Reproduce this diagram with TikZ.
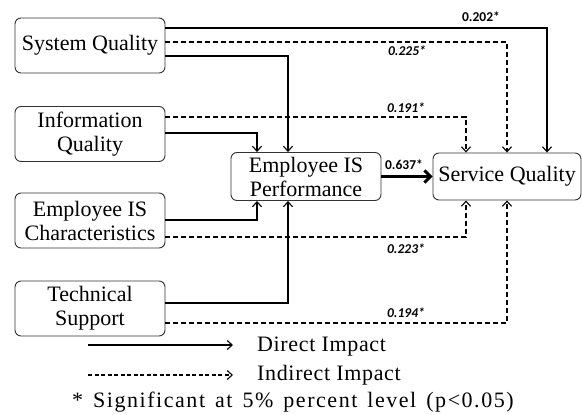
\documentclass[tikz,border=0pt]{standalone}
\usepackage{fontspec}
\setmainfont{Liberation Serif}
\newfontfamily\lblfont{Carlito}
\usetikzlibrary{arrows.meta}
\begin{document}
\begin{tikzpicture}[x=1pt,y=-1pt,
  box/.style={draw=black!80, line width=0.9pt, rounded corners=6pt, inner sep=0pt, align=center, font=\fontsize{22}{24}\selectfont},
  direct/.style={line width=1.1pt, -{Straight Barb[length=5pt,width=9pt,line width=1.1pt]}},
  indirect/.style={direct, dash pattern=on 5pt off 3pt},
  legdash/.style={direct, dash pattern=on 4pt off 2.5pt},
  mainarrow/.style={line width=3pt, -{Straight Barb[length=6pt,width=12pt]}},
  lab/.style={font=\lblfont\bfseries\fontsize{13.5}{13.5}\selectfont, inner sep=0pt},
  labi/.style={inner sep=0pt, font=\lblfont\bfseries\itshape\fontsize{13.5}{13.5}\selectfont},
  legtext/.style={font=\fontsize{22}{24}\selectfont\addfontfeature{LetterSpace=3}, anchor=base west, inner sep=0pt}
]
\useasboundingbox (0,0) rectangle (582,415);
% boxes
\node[box, minimum width=150pt, minimum height=55pt] (sys) at (90,45.5) {System Quality};
\node[box, minimum width=150pt, minimum height=55pt] (info) at (90,134) {Information\\Quality};
\node[box, minimum width=150pt, minimum height=55pt] (char) at (90,220.5) {Employee IS\\Characteristics};
\node[box, minimum width=150pt, minimum height=55pt] (tech) at (90,308.5) {Technical\\Support};
\node[box, minimum width=150pt, minimum height=48pt] (perf) at (306,176.5) {Employee IS\\Performance};
\node[box, minimum width=148pt, minimum height=47pt] (serv) at (507,176.5) {Service Quality};
% connectors
\draw[direct] ([yshift=17.5pt]sys.east) -| ([xshift=40pt]serv.north);
\draw[indirect] ([yshift=3.5pt]sys.east) -| (serv.north);
\draw[direct] ([yshift=-10.5pt]sys.east) -| ([xshift=-18pt]perf.north);
\draw[indirect] ([yshift=17pt]info.east) -| ([xshift=-41pt]serv.north);
\draw[direct] ([yshift=1pt]info.east) -| ([xshift=-49pt]perf.north);
\draw[direct] ([yshift=0.5pt]char.east) -| ([xshift=-49pt]perf.south);
\draw[indirect] ([yshift=-16.5pt]char.east) -| ([xshift=-41pt]serv.south);
\draw[direct] ([yshift=5.5pt]tech.east) -| ([xshift=-18pt]perf.south);
\draw[indirect] ([yshift=-14.5pt]tech.east) -| (serv.south);
\draw[mainarrow] (perf.east) -- (serv.west);
% labels
\node[lab] (l202) at (481,17) {0.202*};
\node[labi] (l225) at (407,51) {0.225*};
\node[labi] (l191) at (406,108) {0.191*};
\node[lab] (l637) at (404,165) {0.637*};
\node[labi] (l223) at (406,249) {0.223*};
\node[labi] (l194) at (406,313) {0.194*};
% legend
\coordinate (d1) at (88,345);
\coordinate (d2) at (233,345);
\coordinate (i1) at (88,375);
\coordinate (i2) at (233,375);
\draw[direct] (d1) -- (d2);
\draw[legdash] (i1) -- (i2);
\node[legtext] (dtext) at (257,351) {Direct Impact};
\node[legtext] (itext) at (257,380) {Indirect Impact};
\node[anchor=base west, inner sep=0pt, font=\fontsize{22}{24}\selectfont\addfontfeature{LetterSpace=7}] (note) at (72,407) {\spaceskip=10pt\relax * Significant at 5\% percent level (p<0.05)};
\end{tikzpicture}
\end{document}
